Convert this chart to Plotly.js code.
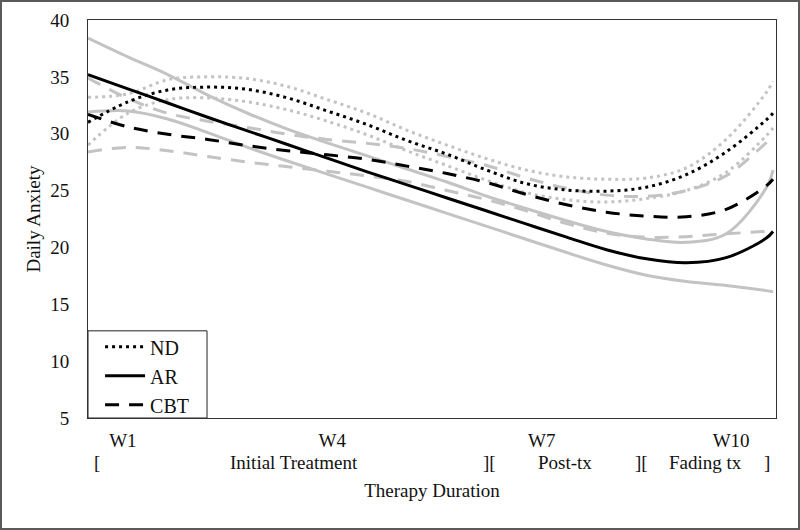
<!DOCTYPE html>
<html>
<head>
<meta charset="utf-8">
<script src="https://cdn.plot.ly/plotly-3.0.1.min.js"></script>
<style>
  html, body { margin: 0; padding: 0; background: #fff; }
  #frame { width: 800px; height: 530px; box-sizing: border-box; border: 2px solid #5a5a5a; background: #fff; }
  #chart { width: 796px; height: 526px; }
</style>
</head>
<body>
<div id="frame"><div id="chart"></div></div>
<script>
// Therapy duration in days (x)
const days = [0, 4, 8, 12, 16, 20, 24, 28, 32, 36, 40, 44, 48, 52, 56, 60, 64, 68, 68.7];

// Means
const ndMean  = [31.0, 32.8, 33.85, 34.1, 33.9, 33.15, 32.0, 30.8, 29.4, 28.2, 26.8, 25.6, 25.05, 24.95, 25.3, 26.4, 28.4, 31.2, 31.8];
const arMean  = [35.2, 33.95, 32.7, 31.45, 30.25, 29.05, 27.85, 26.65, 25.5, 24.35, 23.2, 22.05, 20.9, 19.8, 19.0, 18.65, 19.1, 20.8, 21.4];
const cbtMean = [31.7, 30.6, 29.95, 29.5, 28.95, 28.5, 28.15, 27.75, 27.15, 26.5, 25.7, 24.65, 23.75, 23.1, 22.75, 22.7, 23.35, 25.4, 26.0];

// Confidence bands
const ndUpper  = [33.2, 33.5, 34.75, 35.0, 34.85, 34.15, 33.0, 31.8, 30.3, 29.0, 27.8, 26.8, 26.2, 26.0, 26.1, 27.0, 29.5, 33.6, 34.6];
const ndLower  = [29.0, 31.8, 33.0, 33.15, 32.8, 32.1, 31.1, 29.9, 28.5, 27.2, 25.9, 24.8, 24.2, 24.0, 24.3, 25.0, 26.6, 29.8, 30.5];
const arUpper  = [38.4, 36.75, 35.2, 33.4, 31.8, 30.4, 29.2, 28.05, 26.9, 25.75, 24.5, 23.4, 22.35, 21.4, 20.75, 20.45, 21.2, 25.2, 26.8];
const arLower  = [31.9, 32.0, 31.3, 30.1, 28.8, 27.6, 26.45, 25.3, 24.15, 23.0, 21.85, 20.7, 19.55, 18.45, 17.55, 17.0, 16.65, 16.2, 16.1];
const cbtUpper = [34.9, 33.1, 31.8, 31.1, 30.55, 29.95, 29.5, 29.15, 28.7, 28.0, 27.2, 26.1, 25.2, 24.6, 24.5, 25.0, 26.3, 29.2, 29.8];
const cbtLower = [28.4, 28.8, 28.5, 28.0, 27.5, 27.1, 26.7, 26.3, 25.8, 25.0, 24.2, 23.2, 22.1, 21.25, 20.9, 20.95, 21.2, 21.4, 21.4];

// Axis labels
const weekTickVals = [3.5, 24.5, 45.5, 64.5];
const weekTickText = ['W1', 'W4', 'W7', 'W10'];
const phaseLabels = ['[', 'Initial Treatment', '][', 'Post-tx', '][', 'Fading tx', ']'];
const phasePos    = [0.9, 20.7, 40.3, 47.8, 55.5, 61.9, 68.1];

const FONT = 'Liberation Serif, Times New Roman, serif';
const GRAY = '#c3c3c3';
const DOT = '3px,4px';
const DASH = '14px,10px';

function band(y, dash) {
  return { x: days, y: y, type: 'scatter', mode: 'lines', showlegend: false, hoverinfo: 'skip',
           line: { color: GRAY, width: 3, dash: dash, shape: 'spline', smoothing: 1 } };
}
function mean(y, dash, name) {
  return { x: days, y: y, type: 'scatter', mode: 'lines', name: name,
           line: { color: '#000', width: 3, dash: dash, shape: 'spline', smoothing: 1 } };
}

const data = [
  band(ndUpper, DOT), band(ndLower, DOT),
  band(arUpper, 'solid'), band(arLower, 'solid'),
  band(cbtUpper, DASH), band(cbtLower, DASH),
  mean(ndMean, DOT, 'ND'),
  mean(arMean, 'solid', 'AR'),
  mean(cbtMean, DASH, 'CBT')
];

const annotations = phaseLabels.map((t, i) => ({
  text: t, x: phasePos[i], xref: 'x', y: -0.113, yref: 'paper',
  xanchor: 'center', yanchor: 'middle', showarrow: false,
  font: { family: FONT, size: 19, color: '#111' }
}));

const layout = {
  width: 796, height: 526,
  margin: { l: 86, r: 22, t: 18, b: 110 },
  paper_bgcolor: '#fff', plot_bgcolor: '#fff',
  font: { family: FONT, size: 19, color: '#111' },
  showlegend: true,
  legend: {
    x: 0.003, y: -0.016, xanchor: 'left', yanchor: 'bottom',
    bgcolor: 'rgba(0,0,0,0)', borderwidth: 0,
    font: { family: FONT, size: 20, color: '#111' },
    tracegroupgap: 0, itemwidth: 40, indentation: 10
  },
  shapes: [{
    type: 'rect', xref: 'paper', yref: 'paper', x0: 0, x1: 0.173, y0: 0, y1: 0.219,
    line: { color: '#222', width: 1 }, fillcolor: '#fff', layer: 'below'
  }],
  xaxis: {
    range: [0, 69], showgrid: false, zeroline: false,
    showline: true, mirror: true, linecolor: '#333', linewidth: 1,
    tickvals: weekTickVals, ticktext: weekTickText, ticks: '',
    ticklabelstandoff: 5,
    tickfont: { family: FONT, size: 19, color: '#111' },
    title: { text: 'Therapy Duration', standoff: 33, font: { family: FONT, size: 19, color: '#111' } }
  },
  yaxis: {
    range: [5, 40], dtick: 5, tick0: 5, showgrid: false, zeroline: false,
    showline: true, mirror: true, linecolor: '#333', linewidth: 1,
    ticks: '', ticklabelstandoff: 14,
    tickfont: { family: FONT, size: 19, color: '#111' },
    title: { text: 'Daily Anxiety', standoff: 4, font: { family: FONT, size: 19, color: '#111' } }
  },
  annotations: annotations
};

Plotly.newPlot('chart', data, layout, { staticPlot: true, displayModeBar: false });
</script>
</body>
</html>
